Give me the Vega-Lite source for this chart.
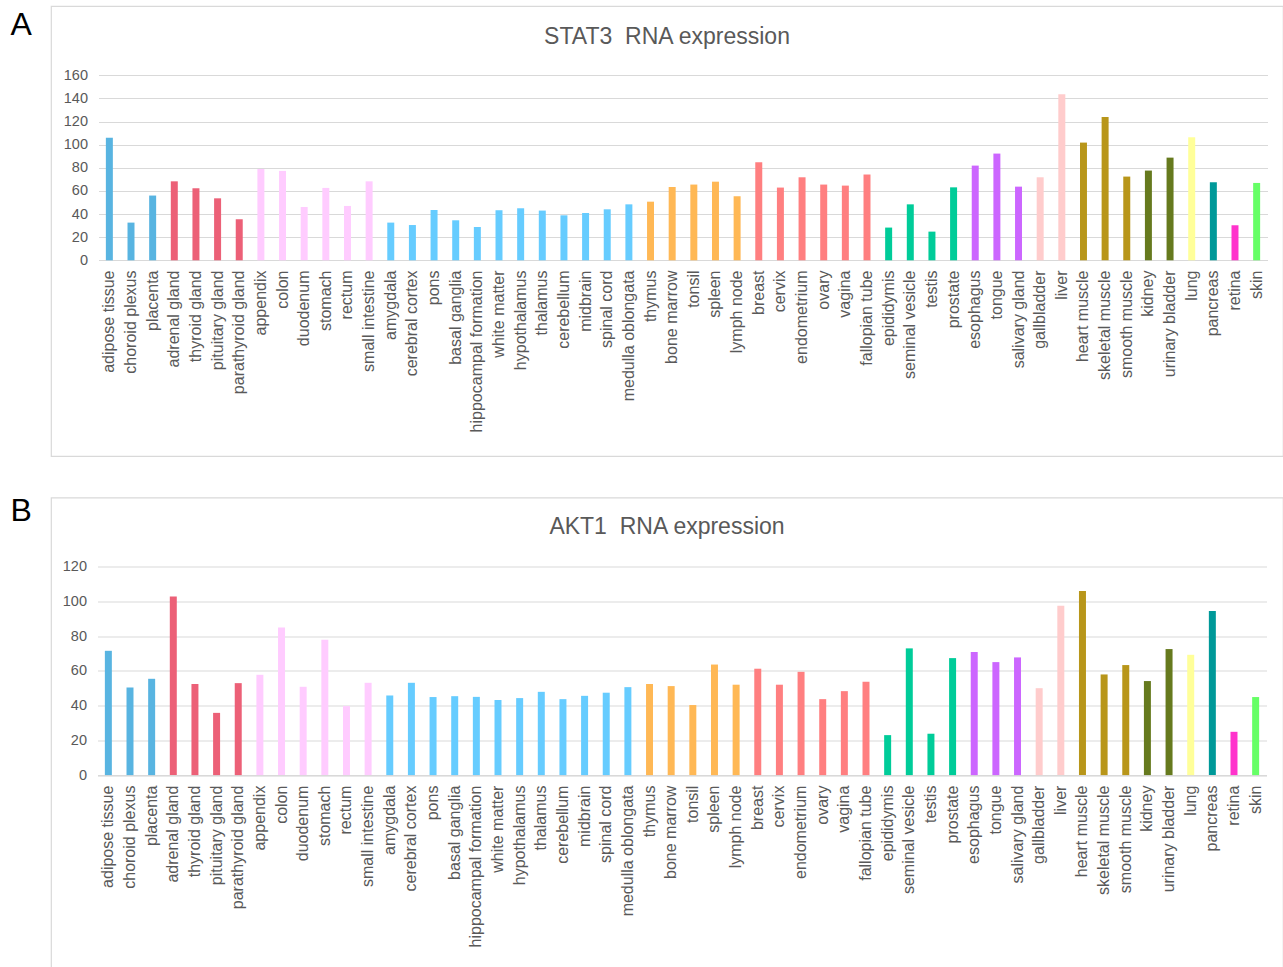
{
  "$schema": "https://vega.github.io/schema/vega-lite/v6.json",
  "background": "white",
  "padding": {"left": 9, "top": 5, "right": 0, "bottom": 0},
  "spacing": 36.5,
  "config": {
    "font": "Liberation Sans",
    "view": {"stroke": "#d9d9d9", "strokeWidth": 1.2},
    "axis": {"labelFont": "Liberation Sans", "titleFont": "Liberation Sans"}
  },
  "datasets": {
    "tissues": [
      {"tissue": "adipose tissue", "group": "other", "STAT3": 106, "AKT1": 71.5},
      {"tissue": "choroid plexus", "group": "other", "STAT3": 32.6, "AKT1": 50.4},
      {"tissue": "placenta", "group": "other", "STAT3": 56, "AKT1": 55.4},
      {"tissue": "adrenal gland", "group": "endocrine", "STAT3": 68.3, "AKT1": 102.8},
      {"tissue": "thyroid gland", "group": "endocrine", "STAT3": 62.3, "AKT1": 52.4},
      {"tissue": "pituitary gland", "group": "endocrine", "STAT3": 53.6, "AKT1": 35.8},
      {"tissue": "parathyroid gland", "group": "endocrine", "STAT3": 35.5, "AKT1": 52.9},
      {"tissue": "appendix", "group": "gi", "STAT3": 79, "AKT1": 57.7},
      {"tissue": "colon", "group": "gi", "STAT3": 77.3, "AKT1": 84.9},
      {"tissue": "duodenum", "group": "gi", "STAT3": 46.1, "AKT1": 50.8},
      {"tissue": "stomach", "group": "gi", "STAT3": 62.6, "AKT1": 77.9},
      {"tissue": "rectum", "group": "gi", "STAT3": 47, "AKT1": 39.7},
      {"tissue": "small intestine", "group": "gi", "STAT3": 68.3, "AKT1": 53.1},
      {"tissue": "amygdala", "group": "brain", "STAT3": 32.6, "AKT1": 45.8},
      {"tissue": "cerebral cortex", "group": "brain", "STAT3": 30.5, "AKT1": 53.1},
      {"tissue": "pons", "group": "brain", "STAT3": 43.5, "AKT1": 44.9},
      {"tissue": "basal ganglia", "group": "brain", "STAT3": 34.6, "AKT1": 45.4},
      {"tissue": "hippocampal formation", "group": "brain", "STAT3": 28.8, "AKT1": 45},
      {"tissue": "white matter", "group": "brain", "STAT3": 43.3, "AKT1": 43.2},
      {"tissue": "hypothalamus", "group": "brain", "STAT3": 45, "AKT1": 44.3},
      {"tissue": "thalamus", "group": "brain", "STAT3": 43, "AKT1": 47.9},
      {"tissue": "cerebellum", "group": "brain", "STAT3": 38.9, "AKT1": 43.7},
      {"tissue": "midbrain", "group": "brain", "STAT3": 40.9, "AKT1": 45.6},
      {"tissue": "spinal cord", "group": "brain", "STAT3": 44.1, "AKT1": 47.4},
      {"tissue": "medulla oblongata", "group": "brain", "STAT3": 48.4, "AKT1": 50.6},
      {"tissue": "thymus", "group": "lymphoid", "STAT3": 50.7, "AKT1": 52.4},
      {"tissue": "bone marrow", "group": "lymphoid", "STAT3": 63.4, "AKT1": 51.2},
      {"tissue": "tonsil", "group": "lymphoid", "STAT3": 65.5, "AKT1": 40.3},
      {"tissue": "spleen", "group": "lymphoid", "STAT3": 68, "AKT1": 63.6},
      {"tissue": "lymph node", "group": "lymphoid", "STAT3": 55.4, "AKT1": 52},
      {"tissue": "breast", "group": "female", "STAT3": 84.8, "AKT1": 61.2},
      {"tissue": "cervix", "group": "female", "STAT3": 62.9, "AKT1": 52},
      {"tissue": "endometrium", "group": "female", "STAT3": 71.8, "AKT1": 59.4},
      {"tissue": "ovary", "group": "female", "STAT3": 65.5, "AKT1": 43.7},
      {"tissue": "vagina", "group": "female", "STAT3": 64.6, "AKT1": 48.3},
      {"tissue": "fallopian tube", "group": "female", "STAT3": 74.2, "AKT1": 53.7},
      {"tissue": "epididymis", "group": "male", "STAT3": 28.3, "AKT1": 23},
      {"tissue": "seminal vesicle", "group": "male", "STAT3": 48.4, "AKT1": 72.9},
      {"tissue": "testis", "group": "male", "STAT3": 24.8, "AKT1": 23.8},
      {"tissue": "prostate", "group": "male", "STAT3": 63.1, "AKT1": 67.3},
      {"tissue": "esophagus", "group": "proximal", "STAT3": 81.9, "AKT1": 70.8},
      {"tissue": "tongue", "group": "proximal", "STAT3": 92.3, "AKT1": 65},
      {"tissue": "salivary gland", "group": "proximal", "STAT3": 63.7, "AKT1": 67.7},
      {"tissue": "gallbladder", "group": "liver", "STAT3": 71.8, "AKT1": 50},
      {"tissue": "liver", "group": "liver", "STAT3": 143.6, "AKT1": 97.4},
      {"tissue": "heart muscle", "group": "muscle", "STAT3": 101.8, "AKT1": 105.9},
      {"tissue": "skeletal muscle", "group": "muscle", "STAT3": 124, "AKT1": 57.9},
      {"tissue": "smooth muscle", "group": "muscle", "STAT3": 72.4, "AKT1": 63.3},
      {"tissue": "kidney", "group": "kidney", "STAT3": 77.6, "AKT1": 54.1},
      {"tissue": "urinary bladder", "group": "kidney", "STAT3": 88.8, "AKT1": 72.5},
      {"tissue": "lung", "group": "lung", "STAT3": 106.4, "AKT1": 69.2},
      {"tissue": "pancreas", "group": "pancreas", "STAT3": 67.5, "AKT1": 94.4},
      {"tissue": "retina", "group": "retina", "STAT3": 30.3, "AKT1": 24.9},
      {"tissue": "skin", "group": "skin", "STAT3": 66.9, "AKT1": 44.9}
    ]
  },
  "vconcat": [
    {
      "width": 1232,
      "height": 450,
      "data": {"name": "tissues"},
      "title": {"text": "STAT3\u00a0 RNA expression", "fontSize": 23, "fontWeight": "normal", "color": "#595959", "font": "Liberation Sans", "offset": -60.6, "baseline": "alphabetic", "anchor": "middle", "frame": "group"},
      "mark": {"type": "bar"},
      "encoding": {
        "x": {
          "field": "tissue", "type": "nominal", "sort": null,
          "scale": {"range": [47.5, 1216.5], "paddingInner": 0.677, "paddingOuter": 0.34},
          "axis": {"title": null, "labelAngle": -90, "labelFontSize": 16, "labelColor": "#595959", "ticks": false, "tickSize": 0, "labelPadding": 10, "domainColor": "#d9d9d9", "domainWidth": 1.2, "offset": -196, "grid": false, "labelOverlap": false, "labelLimit": 0}
        },
        "y": {
          "field": "STAT3", "type": "quantitative",
          "scale": {"domain": [0, 160], "range": [254.3, 69.3], "nice": false},
          "axis": {"title": "A", "values": [0, 20, 40, 60, 80, 100, 120, 140, 160], "grid": true, "gridColor": "#d9d9d9", "gridWidth": 1.2, "domain": false, "ticks": false, "tickSize": 0, "labelPadding": 11, "labelFontSize": 14.5, "labelColor": "#595959", "offset": -47.5, "titleAngle": 0, "titleX": -88.5, "titleY": 28, "titleAlign": "left", "titleBaseline": "alphabetic", "titleFontSize": 32, "titleFontWeight": "normal", "titleColor": "black"}
        },
        "color": {
          "field": "group", "type": "nominal", "legend": null,
          "scale": {
            "domain": ["other", "endocrine", "gi", "brain", "lymphoid", "female", "male", "proximal", "liver", "muscle", "kidney", "lung", "pancreas", "retina", "skin"],
            "range": ["#58B4E1", "#EC6077", "#FFCCFF", "#66CCFF", "#FFB855", "#FF7F80", "#00CC99", "#CC66FF", "#FFCCCC", "#B8961A", "#667A1E", "#FFFF99", "#009999", "#FF33CC", "#66FF66"]
          }
        }
      }
    },
    {
      "width": 1232,
      "height": 475,
      "data": {"name": "tissues"},
      "title": {"text": "AKT1\u00a0 RNA expression", "fontSize": 23, "fontWeight": "normal", "color": "#595959", "font": "Liberation Sans", "offset": -62.6, "baseline": "alphabetic", "anchor": "middle", "frame": "group"},
      "mark": {"type": "bar"},
      "encoding": {
        "x": {
          "field": "tissue", "type": "nominal", "sort": null,
          "scale": {"range": [46.5, 1215.5], "paddingInner": 0.677, "paddingOuter": 0.34},
          "axis": {"title": null, "labelAngle": -90, "labelFontSize": 16, "labelColor": "#595959", "ticks": false, "tickSize": 0, "labelPadding": 10, "domainColor": "#d9d9d9", "domainWidth": 1.2, "offset": -197.4, "grid": false, "labelOverlap": false, "labelLimit": 0}
        },
        "y": {
          "field": "AKT1", "type": "quantitative",
          "scale": {"domain": [0, 120], "range": [277.6, 69], "nice": false},
          "axis": {"title": "B", "values": [0, 20, 40, 60, 80, 100, 120], "grid": true, "gridColor": "#d9d9d9", "gridWidth": 1.2, "domain": false, "ticks": false, "tickSize": 0, "labelPadding": 11, "labelFontSize": 14.5, "labelColor": "#595959", "offset": -46.5, "titleAngle": 0, "titleX": -87.5, "titleY": 23, "titleAlign": "left", "titleBaseline": "alphabetic", "titleFontSize": 32, "titleFontWeight": "normal", "titleColor": "black"}
        },
        "color": {
          "field": "group", "type": "nominal", "legend": null,
          "scale": {
            "domain": ["other", "endocrine", "gi", "brain", "lymphoid", "female", "male", "proximal", "liver", "muscle", "kidney", "lung", "pancreas", "retina", "skin"],
            "range": ["#58B4E1", "#EC6077", "#FFCCFF", "#66CCFF", "#FFB855", "#FF7F80", "#00CC99", "#CC66FF", "#FFCCCC", "#B8961A", "#667A1E", "#FFFF99", "#009999", "#FF33CC", "#66FF66"]
          }
        }
      }
    }
  ]
}
